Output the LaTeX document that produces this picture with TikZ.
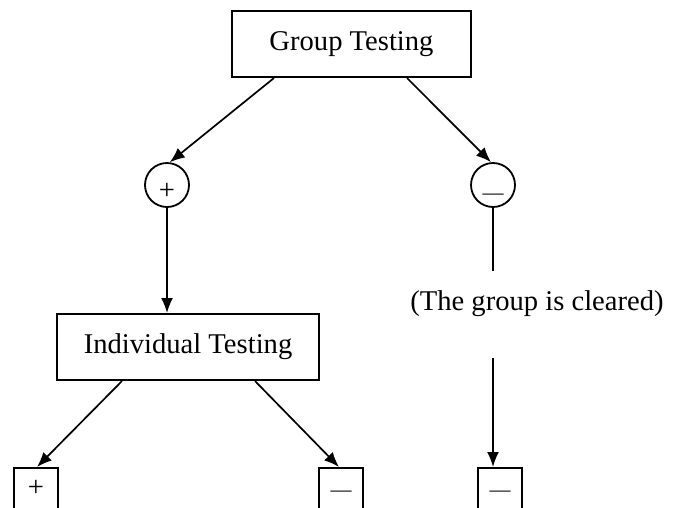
\documentclass[tikz,border=0pt]{standalone}
\usepackage{fontspec}
\setmainfont{Liberation Serif}
\usetikzlibrary{arrows.meta}
\newcommand{\bigtext}{\fontsize{28.6}{34}\selectfont}
\newcommand{\dashsign}{{\fontsize{21}{21}\selectfont —}}

\begin{document}
\begin{tikzpicture}[x=1pt,y=-1pt,
    testbox/.style={draw, line width=2pt, minimum width=#1, minimum height=66pt,
      inner sep=0pt, font=\bigtext},
    testbox/.default=240pt,
    signcirc/.style={draw, circle, line width=1.8pt, minimum size=44pt, inner sep=0pt,
      text height=28pt, text depth=0pt, font=\bigtext},
    outcome/.style={draw, line width=2pt, minimum width=44pt, inner xsep=0pt,
      inner ysep=0pt, anchor=north, text height=28pt, text depth=40pt, font=\bigtext},
    arr/.style={line width=1.7pt, -{Latex[length=15pt,width=12pt]}}]
        \clip (0,0) rectangle (674,507);
        % Nodes
        \node[testbox=239pt]      (grp)   at (351.5,44)  {Group Testing};
        \node[signcirc]           (pos)   at (167,185)   {+};
        \node[signcirc]           (neg)   at (493,185)   {\dashsign};
        \node[testbox=262pt]      (ind)   at (188,347)   {Individual Testing};
        \node[font=\bigtext]      (clr)   at (537,304)   {(The group is cleared)};
        \coordinate               (negA)  at (493,271);
        \coordinate               (negB)  at (493,358);
        \node[outcome]            (ipos)  at (36,467)    {+};
        \node[outcome]            (ineg)  at (341,467)   {\dashsign};
        \node[outcome]            (gneg)  at (500,467)   {\dashsign};
        % Edges
        \draw[arr] ([xshift=-77.5pt]grp.south) -- (pos.83);
        \draw[arr] ([xshift=55.5pt]grp.south) -- (neg.95);
        \draw[arr] (pos.south) -- (pos.south |- ind.north);
        \draw[line width=1.7pt] (neg.south) -- (negA);
        \draw[arr] (negB) -- (negB |- gneg.north);
        \draw[arr] ([xshift=-66pt]ind.south) -- ([xshift=1pt]ipos.north);
        \draw[arr] ([xshift=67pt]ind.south) -- ([xshift=-2pt]ineg.north);
    \end{tikzpicture}
\end{document}
